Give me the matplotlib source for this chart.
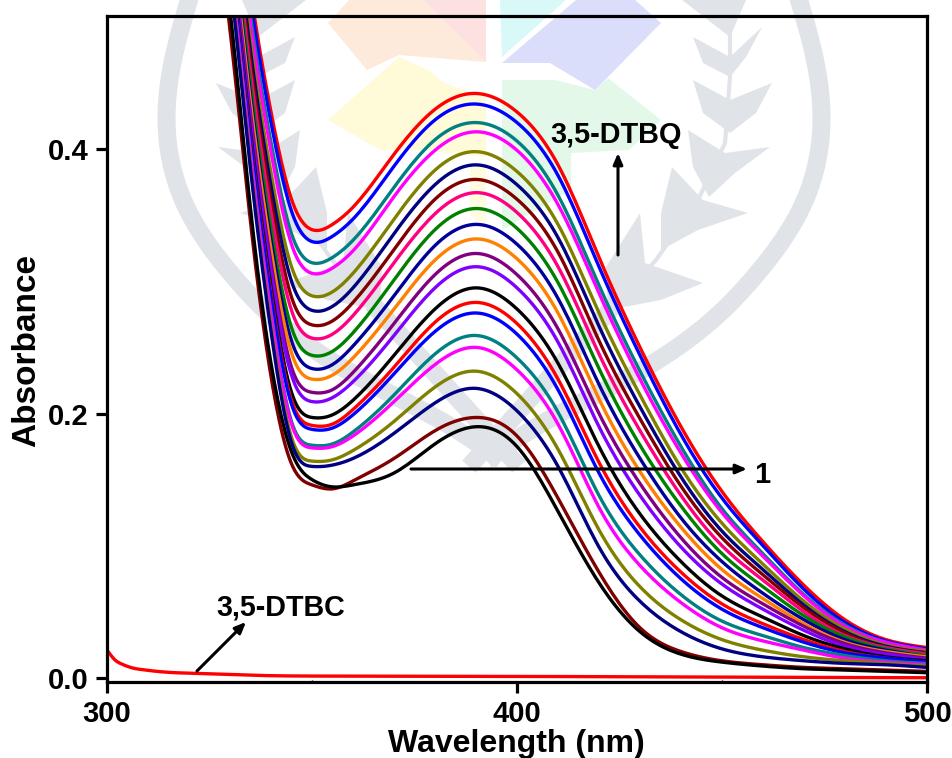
import numpy as np
import matplotlib
matplotlib.use("Agg")
import matplotlib.pyplot as plt
from matplotlib.patches import Polygon

plt.rcParams['font.family'] = ['Liberation Sans', 'DejaVu Sans']
plt.rcParams['font.weight'] = 'bold'

wavelength = [325,330,335,340,345,350,355,360,370,380,390,400,410,420,430,440,450,460,470,480,490,500]

c01 = [.760,.640,.520,.428,.362,.339,.343,.356,.396,.430,.442,.428,.388,.318,.250,.190,.141,.103,.070,.044,.029,.023]
c02 = [.755,.635,.513,.420,.353,.330,.334,.347,.387,.422,.434,.420,.380,.311,.244,.184,.136,.100,.067,.042,.028,.022]
c03 = [.745,.625,.501,.405,.336,.314,.318,.331,.371,.407,.420,.406,.365,.297,.232,.175,.128,.094,.063,.040,.027,.021]
c04 = [.740,.620,.495,.398,.328,.306,.310,.323,.364,.399,.413,.399,.358,.291,.226,.170,.125,.092,.062,.039,.027,.021]
c05 = [.729,.609,.482,.382,.311,.289,.292,.306,.347,.384,.398,.383,.343,.276,.214,.159,.117,.086,.058,.037,.025,.020]
c06 = [.723,.603,.474,.372,.300,.278,.281,.295,.336,.373,.388,.373,.333,.266,.205,.152,.111,.082,.055,.035,.024,.019]
c07 = [.716,.596,.466,.362,.288,.267,.270,.284,.324,.362,.377,.362,.322,.255,.196,.145,.106,.078,.053,.034,.023,.019]
c08 = [.710,.590,.458,.352,.278,.257,.260,.274,.314,.351,.367,.352,.311,.245,.187,.138,.100,.074,.050,.032,.023,.018]
c09 = [.702,.582,.449,.340,.265,.244,.247,.261,.301,.339,.355,.340,.299,.234,.176,.130,.094,.069,.047,.031,.022,.017]
c10 = [.696,.576,.441,.331,.255,.234,.237,.251,.289,.327,.343,.328,.287,.222,.166,.121,.088,.064,.044,.029,.021,.016]
c11 = [.691,.571,.435,.324,.246,.226,.229,.242,.279,.316,.332,.317,.276,.211,.156,.114,.082,.060,.041,.027,.020,.016]
c12 = [.684,.564,.427,.314,.235,.216,.218,.231,.268,.305,.321,.305,.264,.200,.147,.106,.076,.056,.039,.026,.019,.015]
c13 = [.681,.561,.423,.308,.229,.209,.212,.224,.259,.295,.311,.295,.254,.190,.138,.099,.071,.052,.036,.024,.018,.014]
c14 = [.673,.553,.413,.296,.216,.197,.199,.210,.244,.279,.295,.279,.238,.175,.124,.088,.062,.046,.032,.022,.016,.013]
c15 = [.669,.549,.408,.291,.210,.191,.192,.203,.235,.269,.284,.268,.226,.163,.114,.080,.056,.041,.029,.020,.015,.012]
c16 = [.667,.547,.406,.288,.207,.188,.189,.199,.230,.262,.276,.260,.218,.155,.108,.075,.052,.038,.027,.019,.015,.012]
c17 = [.660,.540,.397,.277,.194,.176,.177,.186,.214,.245,.259,.242,.201,.138,.093,.063,.043,.032,.023,.017,.013,.011]
c18 = [.659,.539,.396,.275,.192,.174,.175,.183,.209,.237,.250,.233,.192,.129,.085,.057,.038,.028,.021,.015,.012,.010]
c19 = [.652,.532,.388,.266,.182,.164,.165,.172,.194,.220,.232,.215,.173,.112,.069,.044,.029,.021,.016,.013,.011,.009]
c20 = [.650,.530,.385,.262,.178,.160,.161,.166,.185,.208,.219,.202,.160,.099,.058,.035,.022,.016,.013,.011,.010,.008]
c21 = [.610,.490,.345,.228,.162,.146,.143,.149,.166,.187,.197,.183,.136,.080,.038,.020,.013,.010,.008,.007,.006,.005]
c22 = [.620,.505,.355,.238,.171,.150,.1445,.146,.155,.177,.190,.175,.126,.072,.035,.018,.012,.009,.007,.006,.005,.004]

colors = ['#ff0000','#0000ff','#008080','#ff00ff','#808000','#000080','#800000','#ff0080',
          '#008000','#000099','#ff8000','#800080','#8000ff','#000000','#ff0000','#0000ff',
          '#008080','#ff00ff','#808000','#000080','#800000','#000000']
curves = [c01,c02,c03,c04,c05,c06,c07,c08,c09,c10,c11,c12,c13,c14,c15,c16,c17,c18,c19,c20,c21,c22]

dtbc_wavelength = [300,302,304,306,310,314,322,339,360,400,450,500]
dtbc_absorbance = [.021,.0135,.0100,.0078,.0058,.0045,.0035,.0018,.0014,.0012,.0006,.0002]

xticks = [300,400,500]
yticks = [0.0,0.2,0.4]


def spline_path(x, y, n=12):
    """Natural cubic drawing path through the read points (only rounds the polyline)."""
    x = np.asarray(x, float); y = np.asarray(y, float)
    N = len(x); h = np.diff(x)
    A = np.zeros((N, N)); b = np.zeros(N)
    A[0, 0] = A[-1, -1] = 1
    for i in range(1, N-1):
        A[i, i-1] = h[i-1]; A[i, i] = 2*(h[i-1]+h[i]); A[i, i+1] = h[i]
        b[i] = 6*((y[i+1]-y[i])/h[i] - (y[i]-y[i-1])/h[i-1])
    M = np.linalg.solve(A, b)
    xs, ys = [], []
    for i in range(N-1):
        u = np.linspace(0, 1, n, endpoint=False)
        t = u*h[i]
        a = 1-u
        ys.append(a*y[i] + u*y[i+1] + ((a**3-a)*M[i] + (u**3-u)*M[i+1])*h[i]**2/6)
        xs.append(x[i]+t)
    return np.r_[np.concatenate(xs), x[-1]], np.r_[np.concatenate(ys), y[-1]]


def hermite_path(x, y, n=12):
    x = np.asarray(x, float); y = np.asarray(y, float)
    m = np.gradient(y, x)
    xs, ys = [], []
    for i in range(len(x) - 1):
        h = x[i+1] - x[i]
        u = np.linspace(0, 1, n, endpoint=False)
        xs.append(x[i] + u*h)
        ys.append((2*u**3-3*u**2+1)*y[i] + (u**3-2*u**2+u)*h*m[i]
                  + (-2*u**3+3*u**2)*y[i+1] + (u**3-u**2)*h*m[i+1])
    return np.r_[np.concatenate(xs), x[-1]], np.r_[np.concatenate(ys), y[-1]]


W, H = 952, 758
fig = plt.figure(figsize=(W/100, H/100), dpi=100, facecolor='white')

# faint emblem behind the plot, in pixel coordinates
bg = fig.add_axes([0, 0, 1, 1], zorder=0)
bg.set_xlim(0, W); bg.set_ylim(H, 0); bg.axis('off')
gray = '#e0e4e9'
patches = [
    ([(349,0),(423,0),(486,62),(399,55),(367,70),(328,23)], '#fdeadb'),
    ([(423,0),(486,0),(486,62)], '#fde0e0'),
    ([(500,0),(566,0),(502,57)], '#d9f9f9'),
    ([(576,0),(635,0),(661,23),(595,90),(550,63),(502,63)], '#dadefa'),
    ([(399,57),(428,70),(444,83),(486,97),(486,157),(420,150),(380,150),(328,120)], '#fffbd8'),
    ([(502,80),(555,80),(595,90),(608,78),(661,120),(629,150),(571,153),(571,190),(502,230)], '#e4f8ea'),
    ([(470,167),(486,167),(486,227),(470,215)], '#fffbe0'),
]
for pts, col in patches:
    bg.add_patch(Polygon(pts, closed=True, fc=col, ec='none'))

ring_r = [(799,0),(815,60),(821,133),(805,200),(760,270),(720,313),(645,368),(520,437),(494,455)]
leaves_r = [
    [(682,0),(746,0),(730,37)],
    [(693,37),(730,57),(762,27),(746,57),(730,77),(703,63)],
    [(693,80),(730,100),(772,83),(756,113),(730,133),(703,113)],
    [(688,130),(725,153),(770,147),(735,173),(709,197),(693,167)],
    [(672,167),(703,200),(748,213),(698,230),(661,250),(661,213)],
    [(640,213),(645,263),(703,283),(661,300),(608,310),(606,267)],
]
stem_r = [(730,0),(730,77),(725,143),(698,200),(656,260),(610,310)]
band_r = [(610,310),(475,460)]
for sign in (0, 1):
    mir = (lambda p: (988-p[0], p[1])) if sign else (lambda p: p)
    xy = np.array([mir(p) for p in ring_r], float)
    par = np.r_[0, np.cumsum(np.hypot(*np.diff(xy, axis=0).T))]
    _, rx = spline_path(par, xy[:,0])
    _, ry = spline_path(par, xy[:,1])
    bg.plot(rx, ry, color=gray, lw=13, solid_joinstyle='round')
    xy = np.array([mir(p) for p in stem_r])
    bg.plot(xy[:,0], xy[:,1], color=gray, lw=3)
    xy = np.array([mir(p) for p in band_r])
    bg.plot(xy[:,0], xy[:,1], color=gray, lw=13)
    for leaf in leaves_r:
        bg.add_patch(Polygon([mir(p) for p in leaf], closed=True, fc=gray, ec='none'))

# main axes: x 300..500 -> 107..927 px, y 0 at 678 px, 0.2 = 264.5 px
left, right, top, bottom = 107, 927, 16, 682
ax = fig.add_axes([left/W, 1-bottom/H, (right-left)/W, (bottom-top)/H], zorder=1)
ax.patch.set_alpha(0)
ax.set_xlim(300, 500)
ax.set_ylim((678-bottom)/1322.5, (678-top)/1322.5)

for vals, col in zip(curves, colors):
    xs, ys = spline_path(wavelength, vals)
    ax.plot(xs, ys, color=col, lw=2.4, solid_capstyle='butt')
xs, ys = hermite_path(dtbc_wavelength, dtbc_absorbance)
ax.plot(xs, ys, color='#ff0000', lw=2.4)

for s in ax.spines.values():
    s.set_linewidth(2.3)
ax.set_xticks(xticks)
ax.set_xticklabels([str(v) for v in xticks])
ax.set_yticks(yticks)
ax.set_yticklabels([f'{v:.1f}' for v in yticks])
ax.set_xticks([350, 450], minor=True)
ax.tick_params(axis='both', which='major', length=8, width=2.3, labelsize=21, pad=5, direction='out')
ax.tick_params(axis='x', which='minor', length=1.5, width=1, direction='in')
for lab in ax.get_xticklabels() + ax.get_yticklabels():
    lab.set_fontweight('bold')

def ftext(x, y, s, **kw):
    fig.text(x/W, 1-y/H, s, fontweight='bold', ha='center', va='center', zorder=3, **kw)

ftext(516, 744, 'Wavelength (nm)', fontsize=23)
ftext(27, 351, 'Absorbance', fontsize=24, rotation=90)
ftext(616, 135, '3,5-DTBQ', fontsize=20.8)
ftext(281, 607, '3,5-DTBC', fontsize=20.7)
ftext(762, 475, '1', fontsize=21)

top_ax = fig.add_axes([0, 0, 1, 1], zorder=2)
top_ax.set_xlim(0, W); top_ax.set_ylim(H, 0); top_ax.axis('off')
for start, end in [((618,255),(618,153)), ((411,469),(747,469)), ((197,671),(246,622))]:
    top_ax.annotate('', xy=end, xytext=start,
                    arrowprops=dict(arrowstyle='-|>,head_length=0.65,head_width=0.28',
                                    color='black', lw=2.2, shrinkA=0, shrinkB=0))

fig.savefig('out.png', dpi=100)
